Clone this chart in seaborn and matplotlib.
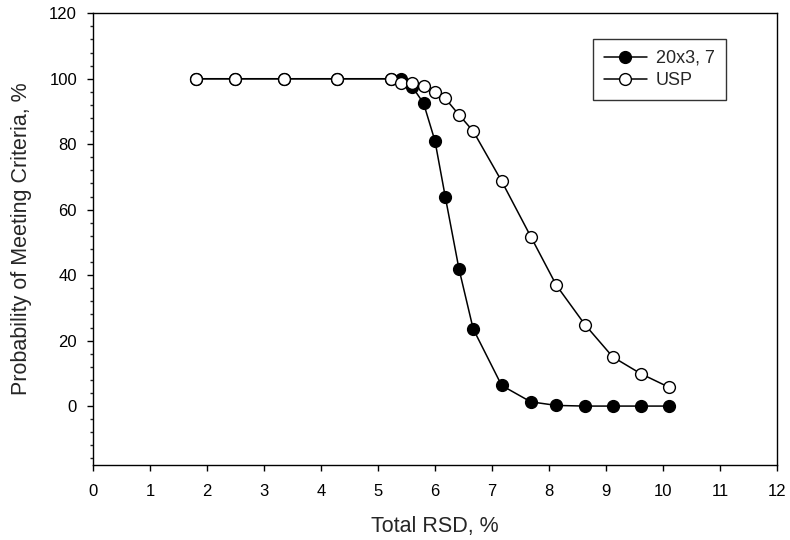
import numpy as np
import pandas as pd
import seaborn as sns
import matplotlib.pyplot as plt
from matplotlib.ticker import MultipleLocator

# Dados
rsd = [1.8, 2.5, 3.35, 4.28, 5.22, 5.4, 5.6, 5.8, 6.0, 6.18, 6.42, 6.67,
       7.17, 7.68, 8.13, 8.63, 9.12, 9.61, 10.1]
prob_20x3 = [100, 100, 100, 100, 100, 99.8, 97.6, 92.5, 81, 64, 42, 23.6,
             6.3, 1.3, 0.2, 0, 0, 0, 0]
prob_usp = [100, 100, 100, 100, 100, 98.8, 98.6, 97.9, 95.9, 94, 89, 84,
            68.7, 51.8, 36.9, 24.9, 15, 9.9, 5.8]

df = pd.DataFrame({"rsd": rsd, "20x3, 7": prob_20x3, "USP": prob_usp})

sns.set_style("ticks")
plt.rcParams["font.family"] = ["Liberation Sans", "DejaVu Sans"]

fig = plt.figure(figsize=(7.9, 5.4), dpi=100)
ax = fig.add_axes([0.1177, 0.1389, 0.8658, 0.8365])

sns.lineplot(data=df, x="rsd", y="20x3, 7", ax=ax, color="black", lw=1.1,
             marker="o", markersize=8.5, markerfacecolor="black",
             markeredgecolor="black", markeredgewidth=1, label="20x3, 7")
sns.lineplot(data=df, x="rsd", y="USP", ax=ax, color="black", lw=1.1,
             marker="o", markersize=8.5, markerfacecolor="white",
             markeredgecolor="black", markeredgewidth=1, label="USP")

ax.set_xlim(0, 12)
ax.set_ylim(-18, 120)
ax.xaxis.set_major_locator(MultipleLocator(1))
ax.yaxis.set_major_locator(MultipleLocator(20))
ax.yaxis.set_minor_locator(MultipleLocator(4))

for side in ["top", "right", "bottom", "left"]:
    ax.spines[side].set_visible(True)
    ax.spines[side].set_linewidth(1)
    ax.spines[side].set_color("black")

ax.tick_params(axis="x", which="major", direction="out", length=4, width=1,
               labelsize=12, pad=10, colors="black")
ax.tick_params(axis="y", which="major", direction="out", length=4.5, width=1,
               labelsize=12, pad=7, colors="black")
ax.tick_params(axis="y", which="minor", direction="out", length=2.5, width=1)
ax.tick_params(top=False, right=False)

ax.set_xlabel("Total RSD, %", fontsize=15.5, labelpad=12)
ax.set_ylabel("Probability of Meeting Criteria, %", fontsize=15.5, labelpad=12)

leg = ax.legend(loc="lower right", bbox_to_anchor=(0.925, 0.8075),
                fontsize=13, frameon=True, fancybox=False, handlelength=2.4,
                borderpad=0.6, labelspacing=0.3, handletextpad=0.5,
                borderaxespad=0)
leg.get_frame().set_edgecolor("black")
leg.get_frame().set_linewidth(1)

fig.savefig("out.png", dpi=100)
